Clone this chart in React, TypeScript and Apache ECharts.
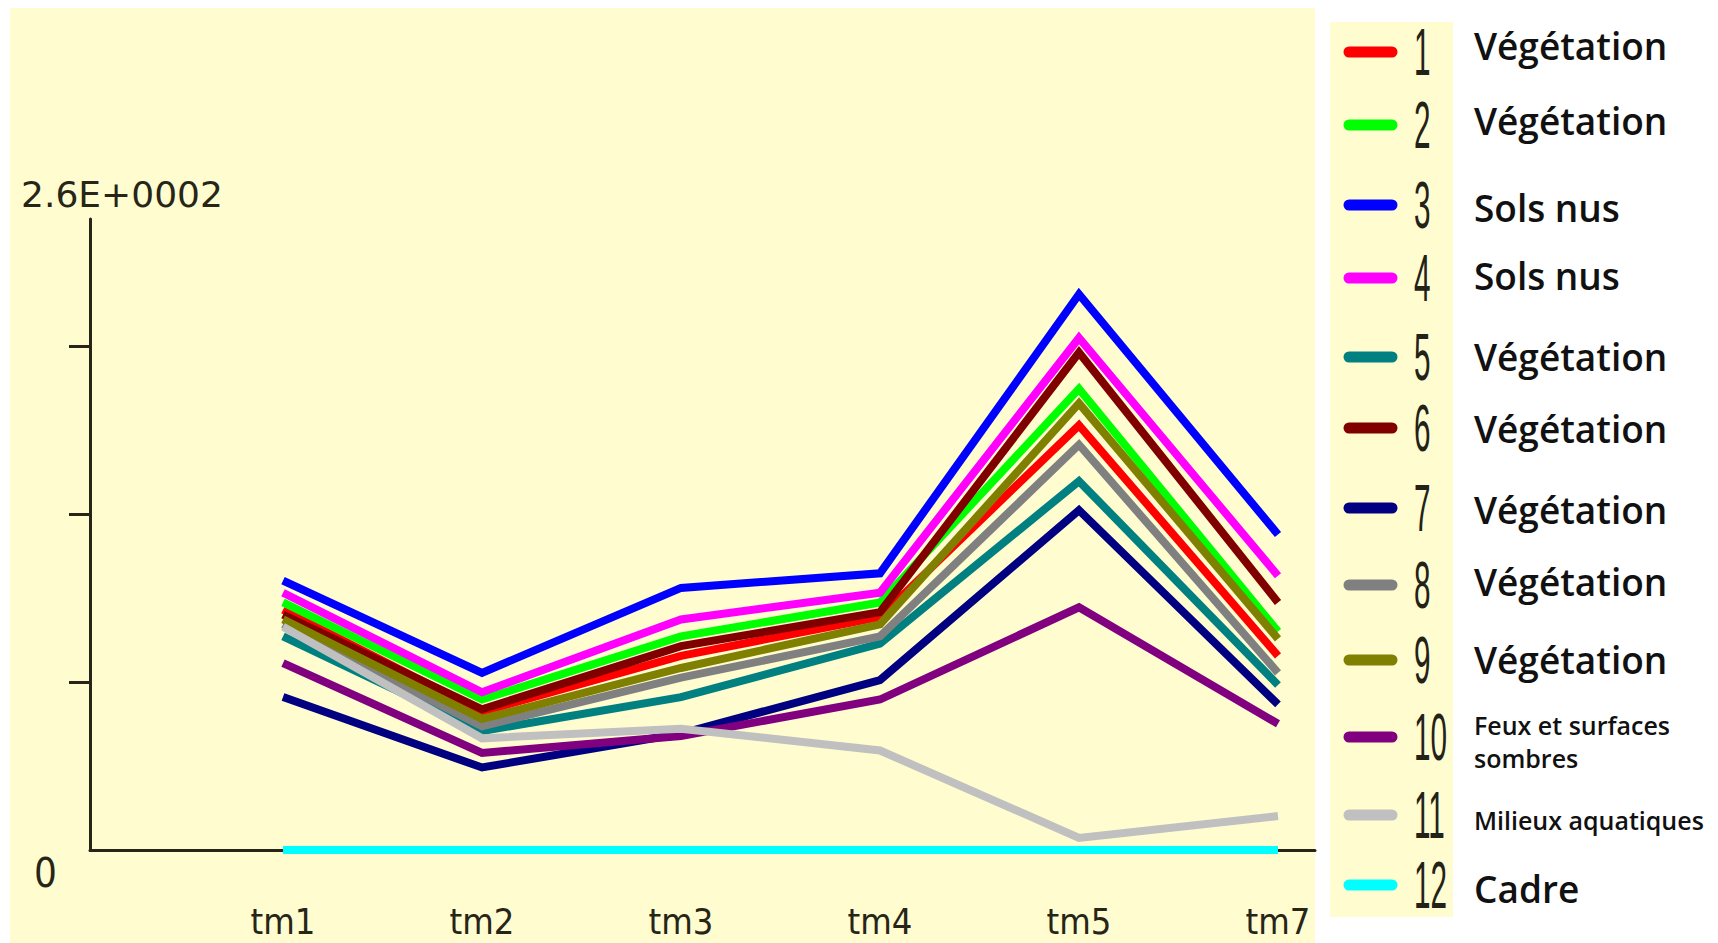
import React, { useEffect, useRef } from 'react';
import * as echarts from 'echarts';

// ---------- data ----------
const categories = ['tm1', 'tm2', 'tm3', 'tm4', 'tm5', 'tm7'];
const categoryPositions = [1, 2, 3, 4, 5, 6];

const classIds = ['1', '2', '3', '4', '5', '6', '7', '8', '9', '10', '11', '12'];
const classLabels = [
  'Végétation',
  'Végétation',
  'Sols nus',
  'Sols nus',
  'Végétation',
  'Végétation',
  'Végétation',
  'Végétation',
  'Végétation',
  'Feux et surfaces\nsombres',
  'Milieux aquatiques',
  'Cadre',
];

const class1 = [99, 57, 80, 96, 175, 80];
const class2 = [102, 62, 88, 102, 190, 90];
const class3 = [111, 73, 108, 114, 229, 130];
const class4 = [106, 65, 95, 106, 211, 113];
const class5 = [88, 49, 63, 85, 152, 68];
const class6 = [97, 58, 84, 98, 205, 102];
const class7 = [63, 34, 48, 70, 140, 60];
const class8 = [93, 51, 71, 88, 167, 73];
const class9 = [95, 54, 75, 93, 184, 87];
const class10 = [77, 40, 47, 62, 100, 52];
const class11 = [92, 46, 50, 41, 5, 14];
const class12 = [0, 0, 0, 0, 0, 0];
const seriesValues = [class1, class2, class3, class4, class5, class6, class7, class8, class9, class10, class11, class12];

const yTickValues = [69.2, 138.4, 207.6];
const yZeroLabel = [0];
const yMaxLabel = '2.6E+0002';
const yMax = 260;

// ---------- styles / layout ----------
const colors = [
  '#ff0000', '#00ff00', '#0000ff', '#ff00ff', '#008080', '#800000',
  '#000080', '#808080', '#808000', '#800080', '#c0c0c0', '#00ffff',
];
const legendSampleY = [52, 125, 205, 278, 357, 428, 508, 585, 660, 737, 815, 885];
const legendLabelY = [45, 120, 207, 275, 356, 428, 509, 581, 659, 741, 820, 888];
const legendLabelSize = [37, 37, 37, 37, 37, 37, 37, 37, 37, 25, 25, 37];

const AXIS_COLOR = '#262517';
const PANEL_BG = '#fffcd0';
const NARROW = "'Liberation Sans Narrow', 'DejaVu Sans Condensed', sans-serif";

export default function App() {
  const ref = useRef<HTMLDivElement>(null);

  useEffect(() => {
    if (!ref.current) return;
    const chart = echarts.init(ref.current, undefined, { renderer: 'svg' });

    const series = seriesValues.map((vals, i) => ({
      name: classIds[i],
      type: 'line',
      data: categoryPositions.map((x, j) => [x, vals[j]]),
      showSymbol: false,
      symbol: 'none',
      silent: true,
      lineStyle: { width: 8, color: colors[i], cap: 'butt', join: 'miter' },
      itemStyle: { color: colors[i] },
    }));

    const legendGraphics: any[] = [];
    classIds.forEach((id, i) => {
      legendGraphics.push({
        type: 'line',
        z: 10,
        shape: { x1: 1349, y1: legendSampleY[i], x2: 1392, y2: legendSampleY[i] },
        style: { stroke: colors[i], lineWidth: 11, lineCap: 'round' },
      });
      legendGraphics.push({
        type: 'text',
        z: 10,
        x: 1414,
        y: legendSampleY[i],
        scaleX: 0.45,
        style: {
          text: id,
          font: "normal 66px 'Liberation Sans', Arial, sans-serif",
          fill: '#222218',
          align: 'left',
          verticalAlign: 'middle',
        },
      });
      legendGraphics.push({
        type: 'text',
        z: 10,
        x: 1474,
        y: legendLabelY[i],
        style: {
          text: classLabels[i],
          font: `600 ${legendLabelSize[i]}px 'Open Sans', 'Noto Sans', sans-serif`,
          lineHeight: legendLabelSize[i] === 25 ? 33 : legendLabelSize[i] + 4,
          fill: '#111111',
          align: 'left',
          verticalAlign: 'middle',
        },
      });
    });

    chart.setOption({
      animation: false,
      backgroundColor: '#ffffff',
      grid: {
        left: 90,
        right: 403,
        top: 219,
        bottom: 93,
        containLabel: false,
        outerBoundsMode: 'none',
      },
      xAxis: {
        type: 'value',
        min: 0.03,
        max: 6.186,
        axisLine: { show: true, onZero: false, lineStyle: { color: AXIS_COLOR, width: 3 } },
        axisTick: { show: false },
        splitLine: { show: false },
        axisLabel: {
          customValues: categoryPositions,
          formatter: (v: number) => {
            const k = categoryPositions.indexOf(Math.round(v));
            return k >= 0 ? categories[k] : '';
          },
          margin: 54,
          fontFamily: NARROW,
          fontWeight: 'normal',
          fontSize: 36,
          lineHeight: 34,
          color: AXIS_COLOR,
        },
      },
      yAxis: {
        type: 'value',
        min: 0,
        max: yMax,
        name: yMaxLabel,
        nameLocation: 'end',
        nameGap: 7,
        nameTextStyle: {
          fontFamily: "'DejaVu Sans', sans-serif",
          fontSize: 36,
          lineHeight: 36,
          color: AXIS_COLOR,
          align: 'center',
          padding: [0, 0, 0, 64],
        },
        axisLine: { show: true, lineStyle: { color: AXIS_COLOR, width: 3 } },
        axisTick: {
          show: true,
          customValues: yTickValues,
          length: 21,
          inside: false,
          lineStyle: { color: AXIS_COLOR, width: 3 },
        },
        splitLine: { show: false },
        axisLabel: {
          customValues: yZeroLabel,
          margin: 33,
          fontFamily: NARROW,
          fontSize: 40,
          lineHeight: 40,
          verticalAlign: 'top',
          padding: [3, 0, 0, 0],
          color: AXIS_COLOR,
        },
      },
      graphic: [
        {
          type: 'rect',
          z: -10,
          silent: true,
          shape: { x: 10, y: 8, width: 1305, height: 935 },
          style: { fill: PANEL_BG },
        },
        {
          type: 'rect',
          z: -10,
          silent: true,
          shape: { x: 1330, y: 22, width: 123, height: 895 },
          style: { fill: PANEL_BG },
        },
        ...legendGraphics,
      ],
      series,
    });

    return () => {
      chart.dispose();
    };
  }, []);

  return (
    <div
      ref={ref}
      style={{ position: 'fixed', left: 0, top: 0, width: 1718, height: 943 }}
    />
  );
}
